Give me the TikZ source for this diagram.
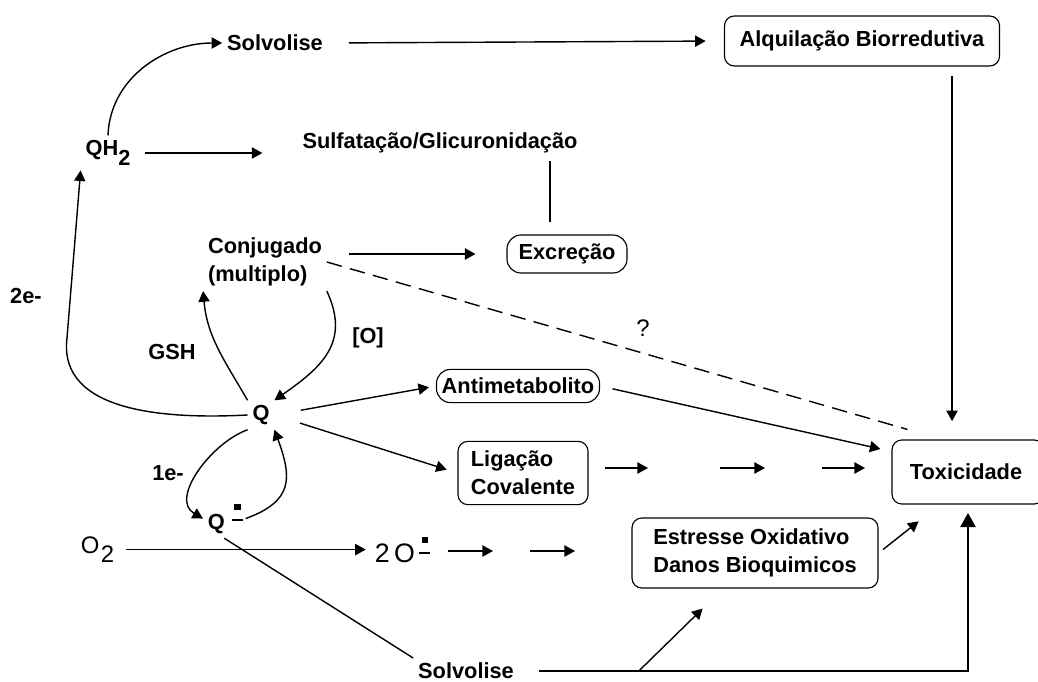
\documentclass[tikz,border=0pt]{standalone}
\usepackage{fontspec}
\setmainfont{Liberation Sans}
\usetikzlibrary{arrows.meta}

% dot over minus, for the radicals
\newcommand{\radmark}{\rule[6pt]{8pt}{1.2pt}\hspace{-6.2pt}\rule[13.5pt]{4.4pt}{4.4pt}\hspace{1.8pt}}

\begin{document}
\begin{tikzpicture}[x=0.025cm, y=-0.025cm,
		every node/.style={font=\fontsize{15.5}{20}\selectfont\bfseries},
		plain/.style={font=\fontsize{17}{20}\selectfont},
		box/.style={draw, line width=0.8pt, rounded corners=7pt, align=left},
		pill/.style={draw, line width=0.8pt, rounded corners=10pt},
		flow/.style={line width=1pt, -{Triangle[length=7.5pt,width=8pt]}},
		link/.style={line width=1pt}]
		\useasboundingbox (0,0) rectangle (1038,682);

		\node (solvA) at (275,43) {Solvolise};
		\node[box, minimum width=6.875cm, minimum height=1.25cm] (alq) at (862,41) {Alquilação Biorredutiva};
		\node (qh2) at (108,153) {QH\raisebox{-7pt}{2}};
		\node (sulf) at (440,143) {Sulfatação/Glicuronidação};
		\node[align=left] (conj) at (265,262) {Conjugado\\(multiplo)};
		\node[pill, minimum width=3cm, minimum height=0.95cm] (exc) at (567,254) {Excreção};
		\node[box, minimum width=3.8cm, minimum height=1.6cm] (tox) at (968,472) {};
		\node (toxt) at (966,472) {Toxicidade};
		\node (e2) at (26,296) {2e-};
		\node (gsh) at (172,352) {GSH};
		\node (ox) at (368,338) {[O]};
		\node (q) at (261,415) {Q};
		\node[pill, minimum width=4.075cm, minimum height=0.83cm] (anti) at (518,386) {Antimetabolito};
		\node[box, minimum width=3.25cm, minimum height=1.58cm] (lig) at (523,473) {Ligação\\Covalente};
		\node (e1) at (168,473) {1e-};
		\node[anchor=base west] (qr) at (203,529) {Q\hspace{5pt}\radmark};
		\node[plain, anchor=base west] (o2) at (76,553) {O\hspace{1pt}\raisebox{-7pt}{2}};
		\node[plain, anchor=base west, font=\fontsize{19}{20}\selectfont] (two) at (370,562) {2\hspace{3pt}O\hspace{3pt}\radmark};
		\node[box, minimum width=6.15cm, minimum height=1.75cm] (stress) at (755,553) {Estresse Oxidativo\\Danos Bioquimicos};
		\node (solvB) at (466,671) {Solvolise};
		\node[plain] (qm) at (643,328) {?};

		% upper branch (QH2)
		\draw[flow] (qh2.north) to[out=88, in=180] (solvA.west);
		\draw[flow, shorten <=15pt, shorten >=13pt] (solvA.east) -- (alq.west);
		\coordinate (alqdrop) at ([xshift=2.25cm]alq.south);
		\draw[flow, shorten <=7pt, shorten >=13pt] (alqdrop) -- (alqdrop |- tox.north);
		\draw[flow, shorten <=7pt, shorten >=25pt] (qh2.east) -- (qh2.east -| sulf.west);
		\coordinate (excjoin) at ([xshift=-0.425cm]exc.north);
		\draw[link, shorten <=2pt, shorten >=9pt] (excjoin |- sulf.south) -- (excjoin);

		% conjugate
		\draw[flow, shorten <=16pt, shorten >=22pt] (conj.east |- exc.west) -- (exc.west);
		\coordinate (toxq) at ([shift={(0.4cm,0.25cm)}]tox.north west);
		\draw[link, dash pattern=on 11pt off 6pt] (conj.east) -- (toxq);

		% around Q
		\coordinate (bend) at (67,338);
		\draw[flow] (q.west) to[out=183, in=-97] (bend) -- (qh2.south west);
		\draw[flow] (q.north west) to[out=120, in=-85] (conj.south west);
		\draw[flow] (conj.south east) to[out=-65, in=35, looseness=1.2] (q.north east);
		\draw[flow] (q.south west) to[out=-160, in=150] (qr.west);
		\draw[flow] (qr.east) to[out=20, in=-70, looseness=1.4] (q.south east);
		\draw[flow, shorten <=19pt, shorten >=5pt] (q.east) -- (anti.west);
		\draw[flow, shorten <=19pt, shorten >=8pt] (q.east) -- (lig.west);
		\coordinate (toxa) at ([yshift=-0.3cm]tox.north west);
		\draw[flow, shorten <=9pt, shorten >=8pt] (anti.east) -- (toxa);
		\foreach \a/\b [count=\i] in {605/648, 720/765, 822/865} {
			\coordinate (ls\i) at (\a,468);
			\coordinate (le\i) at (\b,468);
			\draw[flow] (ls\i) -- (le\i);
		}

		% oxygen
		\draw[flow, shorten <=5pt, shorten >=3pt] (o2.east) -- (o2.east -| two.west);
		\foreach \a/\b [count=\i] in {448/493, 530/575} {
			\coordinate (os\i) at (\a,551);
			\coordinate (oe\i) at (\b,551);
			\draw[flow] (os\i) -- (oe\i);
		}
		\draw[flow, shorten <=4pt] (stress.east) -- ([shift={(0.68cm,-0.42cm)}]tox.south west);

		% lower solvolysis
		\draw[link] (qr.south) -- (solvB.north west);
		\draw[link, -{Triangle[length=10pt,width=11pt]}, shorten <=14pt, shorten >=6pt] (solvB.east) -| (tox.south);
		\coordinate (fork) at ([xshift=3cm]solvB.east);
		\draw[flow] (fork) -- ([shift={(1.78cm,-0.5cm)}]stress.south west);
	\end{tikzpicture}
\end{document}
